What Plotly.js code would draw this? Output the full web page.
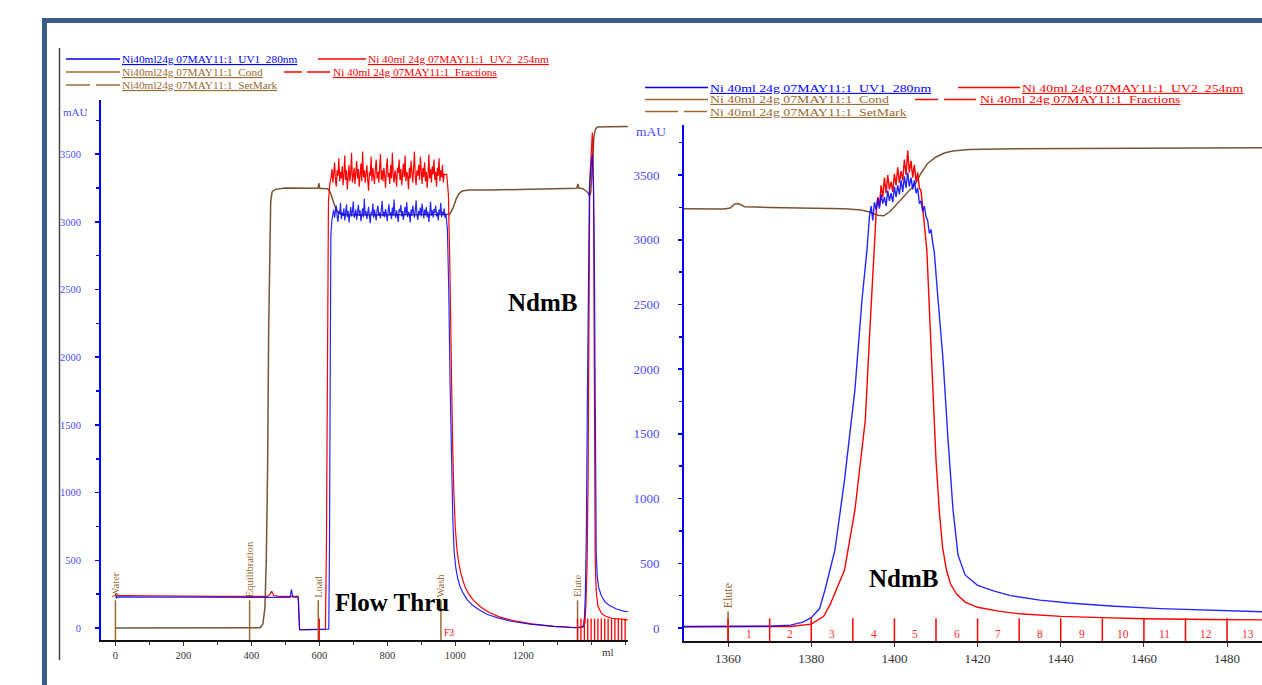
<!DOCTYPE html>
<html><head><meta charset="utf-8">
<script src="https://cdn.plot.ly/plotly-3.0.1.min.js"></script>
<style>
html,body{margin:0;padding:0;background:#fff;overflow:hidden}#chart{width:1262px;height:685px}
g.annotation[data-index="5"] text.annotation-text,
g.annotation[data-index="6"] text.annotation-text,
g.annotation[data-index="7"] text.annotation-text,
g.annotation[data-index="8"] text.annotation-text,
g.annotation[data-index="9"] text.annotation-text{transform-box:fill-box;transform-origin:0% 50%;transform:scaleX(1.28)}
</style>
</head><body><div id="chart"></div>
<script>
// ================= DATA =================
// ---- Left overview chart (ml vs mAU) ----
const leftUV1PreX = [0, 3, 8, 60, 120, 180, 240, 300, 360, 420, 480, 514, 518, 522, 528, 538, 540, 542, 560, 590, 622, 628, 630, 632, 634, 637];
const leftUV1PreY = [250, 222, 230, 229, 228, 227, 226, 226, 225, 225, 225, 226, 285, 228, 227, 227, 110, -12, -12, -12, -12, -8, 600, 2200, 2900, 3010];
const leftUV1PlateauStart = 640, leftUV1PlateauStep = 2.5;
const leftUV1Plateau = [3050, 3090, 3030, 3070, 3120, 3040, 3000, 3080, 3060, 3140,
  3020, 3070, 3045, 3100, 3010, 3065, 3130, 3035, 3080, 2995,
  3060, 3110, 3040, 3075, 3150, 3030, 3055, 3090, 3015, 3070,
  3125, 3045, 3085, 3005, 3060, 3100, 3035, 3170, 3050, 3080,
  3020, 3065, 3110, 3040, 2990, 3075, 3055, 3135, 3030, 3090,
  3060, 3010, 3085, 3120, 3045, 3070, 3025, 3100, 3155, 3040,
  3075, 3035, 3095, 3060, 3005, 3080, 3130, 3050, 3070, 3020,
  3105, 3045, 3165, 3060, 3030, 3085, 3055, 3000, 3095, 3070,
  3125, 3040, 3080, 3015, 3065, 3110, 3050, 3145, 3035, 3075,
  3060, 2995, 3090, 3045, 3120, 3070, 3030, 3085, 3160, 3050,
  3015, 3080, 3055, 3105, 3040, 3135, 3065, 3025, 3090, 3050,
  3110, 3035, 3075, 3000, 3060, 3150, 3045, 3085, 3030, 3095,
  3065, 3120, 3040, 3070, 3010, 3090, 3055, 3140, 3035, 3075,
  3050, 3100, 3030, 3060];
const leftUV1PostX = [977, 981, 985, 989, 993, 997, 1002, 1008, 1015, 1025, 1035, 1050, 1070, 1095, 1125, 1165, 1220, 1290, 1340, 1360, 1376, 1380, 1383, 1386, 1389, 1392, 1395, 1398, 1401, 1403, 1405, 1407, 1409, 1411, 1413, 1415, 1418, 1422, 1430, 1440, 1455, 1475, 1495, 1508];
const leftUV1PostY = [2950, 2500, 1800, 1200, 800, 560, 440, 360, 300, 250, 210, 170, 135, 100, 75, 50, 28, 12, 4, 2, 10, 60, 250, 700, 1700, 2800, 3250, 3350, 3420, 3500, 3400, 3250, 2900, 2100, 1100, 550, 380, 300, 240, 195, 165, 140, 125, 120];

const leftUV2PreX = [0, 3, 8, 60, 120, 180, 240, 300, 360, 420, 448, 455, 460, 466, 480, 520, 538, 540, 542, 560, 590, 618, 621, 624, 627, 631];
const leftUV2PreY = [255, 235, 240, 238, 236, 236, 235, 234, 234, 233, 234, 250, 272, 240, 234, 233, 233, 110, -12, -12, -12, -10, 600, 2300, 3150, 3280];
const leftUV2PlateauStart = 635, leftUV2PlateauStep = 2.5;
const leftUV2Plateau = [3330, 3390, 3290, 3360, 3440, 3310, 3260, 3380, 3340, 3470,
  3300, 3370, 3320, 3410, 3270, 3350, 3490, 3310, 3380, 3240,
  3340, 3420, 3300, 3360, 3510, 3290, 3330, 3400, 3280, 3370,
  3450, 3320, 3390, 3260, 3350, 3430, 3300, 3520, 3330, 3380,
  3290, 3360, 3420, 3310, 3230, 3370, 3340, 3480, 3300, 3400,
  3350, 3280, 3390, 3460, 3320, 3370, 3290, 3410, 3500, 3310,
  3380, 3300, 3400, 3340, 3250, 3390, 3470, 3330, 3360, 3280,
  3420, 3320, 3510, 3350, 3290, 3380, 3340, 3260, 3400, 3360,
  3460, 3310, 3390, 3270, 3350, 3430, 3330, 3490, 3300, 3370,
  3340, 3240, 3400, 3320, 3450, 3360, 3290, 3390, 3520, 3330,
  3270, 3380, 3340, 3420, 3310, 3480, 3350, 3280, 3400, 3330,
  3440, 3300, 3370, 3250, 3340, 3500, 3320, 3390, 3290, 3410,
  3350, 3460, 3310, 3370, 3260, 3400, 3340, 3470, 3300, 3380,
  3330, 3420, 3290, 3350];
const leftUV2PostX = [975, 980, 984, 988, 992, 996, 1000, 1005, 1011, 1018, 1028, 1040, 1055, 1075, 1100, 1130, 1170, 1225, 1290, 1340, 1360, 1378, 1382, 1385, 1388, 1391, 1394, 1396, 1399, 1402, 1403.5, 1405, 1407, 1408.5, 1410, 1412, 1415, 1420, 1430, 1440, 1460, 1490, 1508];
const leftUV2PostY = [3350, 3200, 2700, 2000, 1400, 1000, 750, 580, 470, 390, 310, 250, 200, 155, 115, 82, 55, 30, 12, 4, 3, 10, 40, 200, 450, 1100, 2300, 3300, 3450, 3600, 3660, 3550, 3250, 2400, 1300, 500, 270, 160, 110, 90, 72, 62, 60];

const leftCondX = [0, 100, 200, 300, 400, 426, 434, 440, 444, 448, 451, 454, 457, 461, 470, 500, 560, 596, 599, 601, 604, 625, 632, 640, 648, 656, 665, 700, 800, 900, 975, 985, 995, 1003, 1010, 1020, 1040, 1100, 1200, 1300, 1350, 1358, 1361, 1364, 1375, 1385, 1392, 1396, 1399, 1402, 1405, 1408, 1412, 1418, 1450, 1508];
const leftCondY = [0, 0, 0, 0, 0, 2, 30, 150, 500, 1200, 2200, 2900, 3150, 3220, 3240, 3250, 3250, 3248, 3285, 3250, 3246, 3245, 3220, 3160, 3100, 3070, 3055, 3050, 3050, 3050, 3055, 3060, 3110, 3170, 3205, 3228, 3235, 3235, 3238, 3242, 3245, 3248, 3280, 3250, 3245, 3230, 3210, 3190, 3220, 3350, 3500, 3620, 3680, 3700, 3702, 3705];

const leftSetMarkX = [0, 395, 597, 958, 1360];
const leftSetMarkLabels = ['Water', 'Equilibration', 'Load', 'Wash', 'Elute'];
const leftFractionX = [600, 1360, 1370, 1380, 1390, 1400, 1410, 1420, 1430, 1440, 1450, 1460, 1470, 1480, 1490, 1500];
const leftFractionNote = {x: 962, label: 'F3'};
const leftXTicks = [0, 200, 400, 600, 800, 1000, 1200];
const yTicks = [0, 500, 1000, 1500, 2000, 2500, 3000, 3500];

// ---- Right zoomed chart (elution) ----
const rightUV1RiseX = [1349, 1360, 1370, 1375, 1378, 1380, 1382, 1383.3, 1385.7, 1388, 1390.5, 1392.2, 1393.4];
const rightUV1RiseY = [12, 12, 14, 22, 45, 80, 150, 294, 603, 1144, 1840, 2535, 2921];
const rightUV1NoiseStart = 1394, rightUV1NoiseStep = 0.4;
const rightUV1Noise = [3180, 3260, 3150, 3290, 3230, 3320, 3240, 3350, 3280, 3330,
  3260, 3380, 3300, 3360, 3290, 3410, 3330, 3420, 3350, 3460,
  3370, 3490, 3400, 3520, 3410, 3480, 3390, 3460, 3360, 3400,
  3280, 3300, 3220, 3260, 3180, 3150, 3050, 3080, 2980];
const rightUV1FallX = [1409.6, 1410.5, 1411.7, 1412.9, 1414.1, 1415.3, 1417, 1420, 1424, 1428, 1435, 1442, 1452, 1464, 1477, 1490];
const rightUV1FallY = [2900, 2535, 2071, 1453, 912, 564, 410, 330, 285, 250, 215, 193, 170, 150, 135, 124];

const rightUV2RiseX = [1349, 1375, 1380, 1383, 1384.5, 1386, 1388, 1390.5, 1393, 1394.1, 1395];
const rightUV2RiseY = [10, 12, 30, 90, 178, 300, 448, 912, 1607, 2303, 2900];
const rightUV2NoiseStart = 1395.6, rightUV2NoiseStep = 0.4;
const rightUV2Noise = [3200, 3330, 3260, 3420, 3330, 3480, 3360, 3500, 3390, 3450,
  3370, 3510, 3420, 3560, 3440, 3530, 3460, 3620, 3500, 3690,
  3520, 3610, 3480, 3580, 3450, 3520, 3400, 3380, 3250, 3150];
const rightUV2FallX = [1407.8, 1408.5, 1409.3, 1410, 1410.8, 1411.6, 1412.5, 1413.5, 1415, 1417, 1420, 1425, 1430, 1440, 1450, 1460, 1475, 1490];
const rightUV2FallY = [2921, 2400, 1800, 1300, 900, 620, 450, 340, 260, 200, 160, 130, 110, 90, 80, 72, 66, 62];

const rightCondX = [1349, 1355, 1359, 1360.5, 1361.5, 1362.5, 1364, 1370, 1380, 1388, 1392, 1394, 1396, 1397.5, 1399, 1401, 1403, 1405, 1406.5, 1408, 1410, 1412, 1414, 1418, 1425, 1440, 1460, 1490];
const rightCondY = [3240, 3240, 3238, 3245, 3275, 3280, 3255, 3250, 3245, 3240, 3230, 3215, 3190, 3185, 3220, 3290, 3360, 3430, 3520, 3590, 3640, 3670, 3686, 3698, 3702, 3705, 3708, 3712];

const rightSetMarkX = [1360];
const rightSetMarkLabels = ['Elute'];
const rightFractionX = [1360, 1370, 1380, 1390, 1400, 1410, 1420, 1430, 1440, 1450, 1460, 1470, 1480, 1490];
const rightFractionLabels = ['1', '2', '3', '4', '5', '6', '7', '8', '9', '10', '11', '12', '13'];
const rightXTicks = [1360, 1380, 1400, 1420, 1440, 1460, 1480];

// legend labels
const leftLegend = ['Ni40ml24g 07MAY11:1_UV1_280nm', 'Ni 40ml 24g 07MAY11:1_UV2_254nm', 'Ni40ml24g 07MAY11:1_Cond', 'Ni 40ml 24g 07MAY11:1_Fractions', 'Ni40ml24g 07MAY11:1_SetMark'];
const rightLegend = ['Ni 40ml 24g 07MAY11:1_UV1_280nm', 'Ni 40ml 24g 07MAY11:1_UV2_254nm', 'Ni 40ml 24g 07MAY11:1_Cond', 'Ni 40ml 24g 07MAY11:1_Fractions', 'Ni 40ml 24g 07MAY11:1_SetMark'];

// ================= DRAWING =================
const W = 1262, H = 685;
const PX = v => v / W, PY = v => 1 - v / H;
const SERIF = 'Liberation Serif, Times New Roman, serif';
const BLUE = '#0000ff', RED = '#ff0000', BROWN = '#7a5230', BROWN2 = '#9a6a32';
const TICKBLUE = '#4b4bff';

function grid(start, step, vals) { return vals.map((_, i) => +(start + i * step).toFixed(3)); }
function seg(xs, y0, y1) { const X = [], Y = []; xs.forEach(x => { X.push(x, x, null); Y.push(y0, y1, null); }); return {X, Y}; }

const L = {x: 'x', y: 'y'}, R = {x: 'x2', y: 'y2'};
function line(ax, x, y, color, width, extra) {
  return Object.assign({type: 'scatter', mode: 'lines', xaxis: ax.x, yaxis: ax.y, x, y, hoverinfo: 'skip',
    line: {color, width, shape: 'linear'}, showlegend: false}, extra || {});
}

const traces = [];
// Left
traces.push(line(L, leftCondX, leftCondY, BROWN, 1.5));
traces.push(line(L, [...leftUV2PreX, ...grid(leftUV2PlateauStart, leftUV2PlateauStep, leftUV2Plateau), ...leftUV2PostX],
  [...leftUV2PreY, ...leftUV2Plateau, ...leftUV2PostY], RED, 1.2));
traces.push(line(L, [...leftUV1PreX, ...grid(leftUV1PlateauStart, leftUV1PlateauStep, leftUV1Plateau), ...leftUV1PostX],
  [...leftUV1PreY, ...leftUV1Plateau, ...leftUV1PostY], BLUE, 1.2, {opacity: 0.85}));
let s = seg(leftSetMarkX, -89, 205);
traces.push(line(L, s.X, s.Y, BROWN2, 1.5));
s = seg(leftFractionX, -89, 70);
traces.push(line(L, s.X, s.Y, RED, 1.3));
// Right
traces.push(line(R, rightCondX, rightCondY, BROWN, 1.5));
traces.push(line(R, [...rightUV2RiseX, ...grid(rightUV2NoiseStart, rightUV2NoiseStep, rightUV2Noise), ...rightUV2FallX],
  [...rightUV2RiseY, ...rightUV2Noise, ...rightUV2FallY], RED, 1.4));
traces.push(line(R, [...rightUV1RiseX, ...grid(rightUV1NoiseStart, rightUV1NoiseStep, rightUV1Noise), ...rightUV1FallX],
  [...rightUV1RiseY, ...rightUV1Noise, ...rightUV1FallY], BLUE, 1.4, {opacity: 0.85}));
s = seg(rightSetMarkX, -100, 130);
traces.push(line(R, s.X, s.Y, BROWN2, 1.5));
s = seg(rightFractionX, -100, 75);
traces.push(line(R, s.X, s.Y, RED, 1.5));

// ---- shapes ----
const shapes = [];
shapes.push({type: 'rect', xref: 'paper', yref: 'paper', x0: PX(44.5), x1: PX(1290), y0: PY(720), y1: PY(20.5), line: {color: '#3b5d8c', width: 5}, layer: 'below'});
shapes.push({type: 'line', xref: 'paper', yref: 'paper', x0: PX(59.5), x1: PX(59.5), y0: PY(48), y1: PY(660), line: {color: '#444', width: 1.5}});
function legLine(x0, x1, y, color, w) {
  shapes.push({type: 'line', xref: 'paper', yref: 'paper', x0: PX(x0), x1: PX(x1), y0: PY(y), y1: PY(y), line: {color, width: w || 1.5}});
}
// left legend
legLine(66, 120, 59, BLUE); legLine(318, 366, 59, RED);
legLine(66, 120, 72, BROWN2); legLine(284, 302, 72, RED); legLine(307, 330, 72, RED);
legLine(66, 90, 85, BROWN2); legLine(96, 120, 85, BROWN2);
// right legend
legLine(645, 708, 87.5, BLUE); legLine(958, 1020, 87.5, RED);
legLine(645, 708, 99.5, BROWN2); legLine(915, 938, 99.5, RED); legLine(944, 976, 99.5, RED);
legLine(645, 678, 111.5, BROWN2); legLine(684, 707, 111.5, BROWN2);

// ---- annotations ----
const ann = [];
function ptxt(x, y, text, size, color, xanchor, extra) {
  ann.push(Object.assign({xref: 'paper', yref: 'paper', x: PX(x), y: PY(y), text, showarrow: false,
    xanchor: xanchor || 'left', yanchor: 'middle', font: {family: SERIF, size, color}}, extra || {}));
}
// indices 0-4: left legend
ptxt(120, 59, '<u>' + leftLegend[0] + '</u>', 11.3, BLUE);
ptxt(366, 59, '<u>' + leftLegend[1] + '</u>', 11.3, RED);
ptxt(120, 72, '<u>' + leftLegend[2] + '</u>', 11.3, BROWN2);
ptxt(331, 72, '<u>' + leftLegend[3] + '</u>', 11.3, RED);
ptxt(120, 85, '<u>' + leftLegend[4] + '</u>', 11.3, BROWN2);
// indices 5-9: right legend (stretched horizontally by CSS)
ptxt(708, 87.5, '<u>' + rightLegend[0] + '</u>', 10.8, BLUE);
ptxt(1020, 87.5, '<u>' + rightLegend[1] + '</u>', 10.8, RED);
ptxt(708, 99.5, '<u>' + rightLegend[2] + '</u>', 10.8, BROWN2);
ptxt(978, 99.5, '<u>' + rightLegend[3] + '</u>', 10.8, RED);
ptxt(708, 111.5, '<u>' + rightLegend[4] + '</u>', 10.8, BROWN2);

ptxt(61, 112, 'mAU', 11, TICKBLUE);
ptxt(634, 132, 'mAU', 13.5, TICKBLUE);
ptxt(600, 652, 'ml', 11, '#333');

ptxt(392, 602, '<b>Flow Thru</b>', 25, '#000', 'center');
ptxt(542, 303, '<b>NdmB</b>', 25, '#000', 'center');
ptxt(903, 578, '<b>NdmB</b>', 25, '#000', 'center');

leftSetMarkX.forEach((x, i) => ann.push({xref: 'x', yref: 'y', x, y: 210, text: leftSetMarkLabels[i], textangle: -90,
  showarrow: false, xanchor: 'center', yanchor: 'bottom', font: {family: SERIF, size: 10.5, color: BROWN2}}));
rightSetMarkX.forEach((x, i) => ann.push({xref: 'x2', yref: 'y2', x, y: 133, text: rightSetMarkLabels[i], textangle: -90,
  showarrow: false, xanchor: 'center', yanchor: 'bottom', font: {family: SERIF, size: 12, color: BROWN2}}));
ann.push({xref: 'x', yref: 'y', x: leftFractionNote.x, y: -40, text: leftFractionNote.label, showarrow: false,
  xanchor: 'left', yanchor: 'middle', font: {family: SERIF, size: 9.5, color: RED}});
rightFractionLabels.forEach((t, i) => ann.push({xref: 'x2', yref: 'y2', x: (rightFractionX[i] + rightFractionX[i + 1]) / 2, y: -48,
  text: t, showarrow: false, xanchor: 'center', yanchor: 'middle', font: {family: SERIF, size: 11.5, color: '#ff2a2a'}}));

// ---- axes ----
const xBase = {showgrid: false, zeroline: false, showline: true, linecolor: '#111', linewidth: 2, ticks: 'outside', ticklen: 4,
  tickcolor: '#333', tickwidth: 1, fixedrange: true};
const yBase = {showgrid: false, zeroline: false, showline: true, linecolor: BLUE, linewidth: 2, ticks: 'outside', ticklen: 4,
  tickcolor: BLUE, tickwidth: 1.5, tickmode: 'array', tickvals: yTicks, fixedrange: true,
  minor: {tickmode: 'linear', tick0: 0, dtick: 250, ticks: 'outside', ticklen: 3, tickcolor: BLUE}};

const layout = {
  width: W, height: H, margin: {l: 0, r: 0, t: 0, b: 0}, paper_bgcolor: '#fff', plot_bgcolor: 'rgba(0,0,0,0)', showlegend: false,
  xaxis: Object.assign({}, xBase, {domain: [PX(101), PX(628)], range: [-42.4, 1508.5], anchor: 'y', tickmode: 'array', tickvals: leftXTicks,
    tickfont: {family: SERIF, size: 10.5, color: '#333'},
    minor: {tickmode: 'linear', tick0: 0, dtick: 100, ticks: 'outside', ticklen: 3, tickcolor: '#333'}}),
  yaxis: Object.assign({}, yBase, {domain: [PY(640), PY(100)], range: [-88.6, 3900], anchor: 'x', ticklabelstandoff: 12,
    tickfont: {family: SERIF, size: 10.5, color: TICKBLUE}}),
  xaxis2: Object.assign({}, xBase, {domain: [PX(684), 1], range: [1349.4, 1488.4], anchor: 'y2', tickmode: 'array', tickvals: rightXTicks,
    tickfont: {family: SERIF, size: 13, color: '#333'}}),
  yaxis2: Object.assign({}, yBase, {domain: [PY(641), PY(125)], range: [-100.5, 3887], anchor: 'x2', ticklabelstandoff: 16,
    tickfont: {family: SERIF, size: 13, color: TICKBLUE}}),
  shapes, annotations: ann
};

Plotly.newPlot('chart', traces, layout, {staticPlot: true, displayModeBar: false});
</script>
</body></html>
